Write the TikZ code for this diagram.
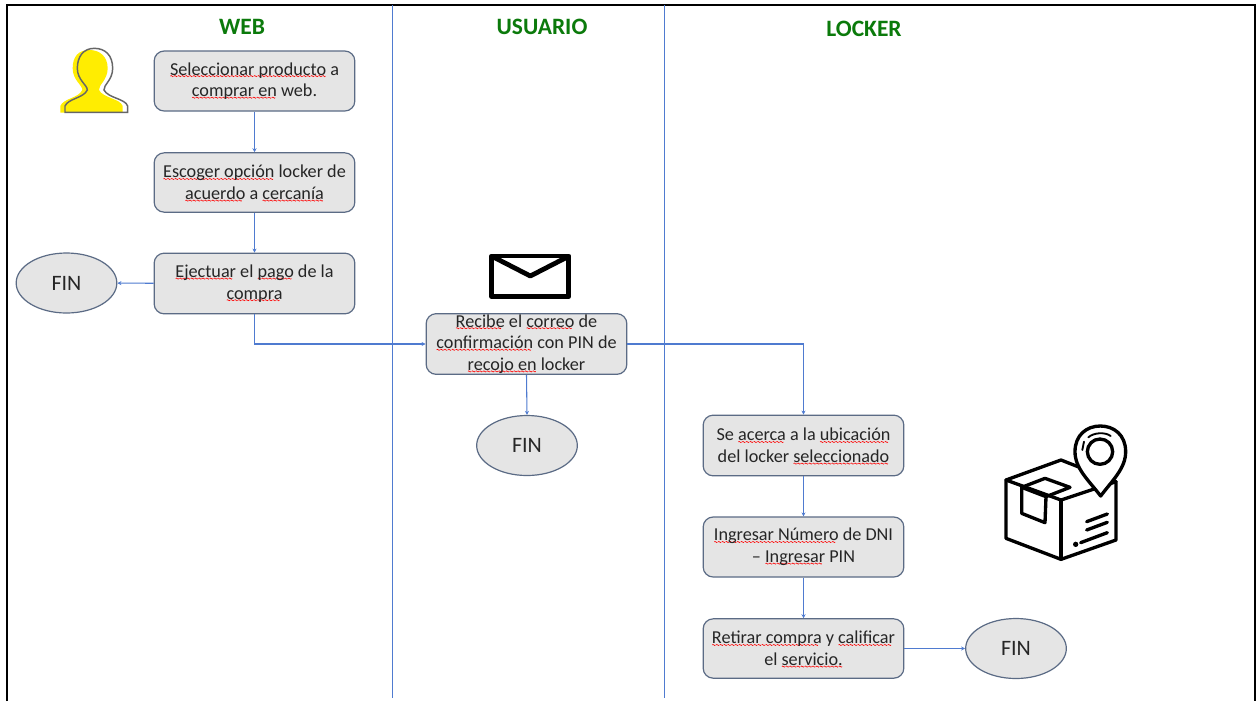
\documentclass[tikz,border=0pt]{standalone}
\usepackage{fontspec}
\setmainfont{Carlito}
\usetikzlibrary{shapes.geometric,arrows.meta}
\definecolor{flow}{HTML}{4F7BD0}
\definecolor{edge}{HTML}{5B6B85}
\definecolor{boxfill}{HTML}{E5E5E5}
\definecolor{head}{HTML}{0B7A0B}
\definecolor{ink}{HTML}{262626}
\newsavebox{\sqbox}
\newsavebox{\wavebox}
\sbox{\wavebox}{\begin{pgfpicture}\pgfsetlinewidth{0.45pt}\pgfsetstrokecolor{red}\pgfpathmoveto{\pgfpoint{0pt}{0pt}}\pgfpathcurveto{\pgfpoint{0.8pt}{1.5pt}}{\pgfpoint{1.6pt}{-1.5pt}}{\pgfpoint{2.4pt}{0pt}}\pgfusepath{stroke}\end{pgfpicture}}
\newcommand\sq[1]{\leavevmode\sbox{\sqbox}{#1}\rlap{\smash{\hbox to \wd\sqbox{\leaders\hbox{\lower2.5pt\copy\wavebox}\hfill}}}\usebox{\sqbox}}
\tikzset{
 x=0.75pt,y=-0.75pt,
 stepbox/.style={draw=edge,fill=boxfill,line width=0.9pt,rounded corners=7.5pt,minimum width=150.5pt,align=center,text=ink,font=\fontsize{13.65}{16.2}\selectfont,inner sep=0pt,anchor=center},
 finnode/.style={draw=edge,fill=boxfill,line width=0.9pt,ellipse,minimum width=75.5pt,minimum height=45pt,inner sep=0pt,text=ink,font=\fontsize{16.5}{18}\selectfont},
 flowline/.style={draw=flow,line width=0.8pt,-{Stealth[length=3pt,width=3pt]}},
 lane/.style={draw=flow,line width=0.8pt},
 lanehead/.style={text=head,font=\fontsize{17.6}{20}\selectfont\bfseries},
 icon/.style={line width=2.5pt,line join=round,line cap=round,draw=black}
}
\begin{document}
\begin{tikzpicture}
\useasboundingbox (0,0) rectangle (1258,701);
\fill[white] (0,0) rectangle (1258,701);
% frame
\draw[black,line width=1.5pt] (7,701) -- (7,4.5) -- (1255,4.5) -- (1255,701);
% lanes
\coordinate (l1a) at (392.5,5); \coordinate (l1b) at (392.5,698);
\coordinate (l2a) at (664.5,5); \coordinate (l2b) at (664.5,698);
\draw[lane] (l1a) -- (l1b);
\draw[lane] (l2a) -- (l2b);
\node[lanehead] (hweb) at (242,27) {WEB};
\node[lanehead] (husr) at (542,27) {USUARIO};
\node[lanehead] (hlck) at (864,29) {LOCKER};
% steps
\node[stepbox,minimum height=45pt] (n1) at (254.5,81) {\sq{Seleccionar producto} a\\\sq{comprar en} web.};
\node[stepbox,minimum height=44.5pt] (n2) at (254.5,182.5) {\sq{Escoger opción} locker de\\\sq{acuerdo} a \sq{cercanía}};
\node[stepbox,minimum height=45.5pt] (n3) at (254.5,283.5) {\sq{Ejectuar} el \sq{pago} de la\\\sq{compra}};
\node[finnode] (f1) at (66.5,283) {FIN};
\node[stepbox,minimum height=45.5pt] (n4) at (526.5,344) {\sq{Recibe} el \sq{correo} de\\\sq{confirmación} con PIN de\\\sq{recojo en} locker};
\node[finnode] (f2) at (527,445.5) {FIN};
\node[stepbox,minimum height=45.5pt] (n5) at (803.5,445.5) {Se \sq{acerca} a la \sq{ubicación}\\del locker \sq{seleccionado}};
\node[stepbox,minimum height=45pt] (n6) at (803.5,547) {\sq{Ingresar Número} de DNI\\-- \sq{Ingresar} PIN};
\node[stepbox,minimum height=44.5pt] (n7) at (803.5,648.5) {\sq{Retirar compra} y \sq{calificar}\\el \sq{servicio.}};
\node[finnode] (f3) at (1016,648.5) {FIN};
% connectors
\draw[flowline] (n1) -- (n2);
\draw[flowline] (n2) -- (n3);
\draw[flowline] (n3) -- (f1);
\draw[flowline] (n3.south) |- (n4.west);
\draw[flowline] (n4.east) -| (n5.north);
\draw[flowline] (n4.south) -- (f2.north);
\draw[flowline] (n5) -- (n6);
\draw[flowline] (n6) -- (n7);
\draw[flowline] (n7) -- (f3);
% person icon
\begin{scope}[x=0.25pt,y=-0.25pt]
\fill[yellow!95!orange] (181,338) -- (368,338) -- (368,318) .. controls (360,295) and (310,295) .. (297,270) .. controls (295,255) and (323,240) .. (323,205) .. controls (323,170) and (300,150) .. (268,150) .. controls (235,150) and (218,170) .. (218,205) .. controls (218,240) and (247,255) .. (247,270) .. controls (235,295) and (190,295) .. (181,318) -- cycle;
\draw[draw=black!60,line width=1.1pt] (195,337) -- (383,337) -- (383,318) .. controls (375,295) and (325,295) .. (312,270) .. controls (310,255) and (338,240) .. (338,205) .. controls (338,165) and (315,145) .. (283,145) .. controls (250,145) and (232,170) .. (232,205) .. controls (232,240) and (262,255) .. (262,270) .. controls (250,295) and (205,295) .. (195,318) -- cycle;
\end{scope}
% envelope icon
\begin{scope}[shift={(400,230)},x=0.25pt,y=-0.25pt]
\draw[line width=3.6pt,line join=round] (275,78) rectangle (506,200);
\draw[line width=3.6pt,line join=round] (282,82) -- (391,138) -- (500,82);
\end{scope}
% box and pin icon
\begin{scope}[shift={(690,400)},x=0.25pt,y=-0.25pt]
\draw[icon] (948,240) -- (1113,180) -- (1278,245) -- (1278,420) -- (1113,478) -- (948,415) -- cycle;
\draw[icon] (948,240) -- (1113,300) -- (1278,245);
\draw[icon] (1113,300) -- (1113,478);
\draw[icon] (995,262) -- (1065,235) -- (1140,262) -- (1068,290) -- cycle;
\draw[icon] (995,262) -- (995,340) -- (1065,368) -- (1068,290);
\draw[icon] (1190,365) -- (1252,342);
\draw[icon] (1190,390) -- (1252,367);
\draw[icon] (1172,428) -- (1252,398);
\fill (1157,433) circle[radius=8];
\draw[icon,fill=white] (1232,288) .. controls (1195,240) and (1155,205) .. (1155,155) .. controls (1155,105) and (1190,78) .. (1231,78) .. controls (1272,78) and (1307,105) .. (1307,155) .. controls (1307,205) and (1268,240) .. (1232,288) -- cycle;
\draw[icon] (1230,155) circle[radius=38];
\draw[icon,line width=1.4pt] (1195,112) .. controls (1210,98) and (1245,95) .. (1262,108);
\draw[icon,line width=1.4pt] (1177,150) -- (1182,125);
\end{scope}
\end{tikzpicture}
\end{document}
